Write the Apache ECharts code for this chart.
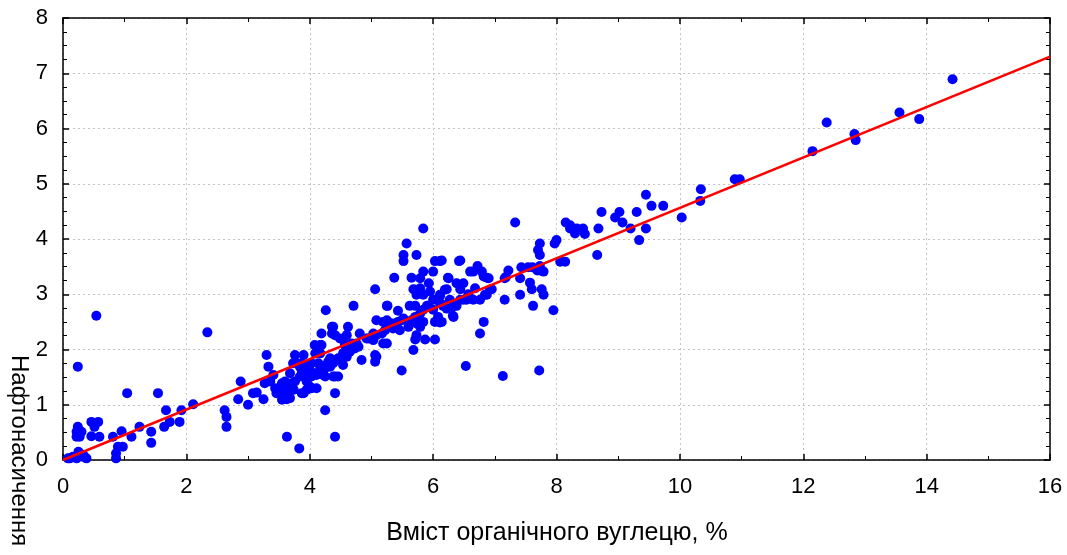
<!DOCTYPE html>
<html>
<head>
<meta charset="utf-8">
<script src="https://cdn.jsdelivr.net/npm/echarts@6/dist/echarts.min.js"></script>
<style>html,body{margin:0;padding:0;background:#fff}#chart{width:1067px;height:555px}</style>
</head>
<body>
<div id="chart"></div>
<script>
const xTitle = 'Вміст органічного вуглецю, %';
const yTitle = 'Нафтонасичення';
const carbon = [
0.08,0.11,0.16,0.22,0.25,0.27,0.32,0.33,0.38,0.24,0.54,0.24,0.22,0.22,0.27,0.30,0.46,0.57,0.51,0.46,0.59,0.81,0.95,0.89,0.97,0.86,0.86,
1.04,1.11,1.24,1.43,1.43,1.54,1.64,1.67,1.73,1.89,1.92,2.11,2.34,2.62,2.65,2.65,2.84,2.88,3.00,3.08,3.14,3.25,
3.30,3.33,3.27,3.36,3.41,3.44,3.46,3.55,3.55,3.63,3.63,3.65,3.68,3.71,3.76,3.60,3.74,3.57,3.63,3.83,3.76,3.90,3.79,3.87,3.73,3.87,3.84,3.68,
3.95,4.00,3.84,3.98,4.03,4.06,4.11,4.11,4.03,3.95,3.87,3.90,4.00,3.95,4.03,4.14,4.17,4.22,4.27,4.33,4.38,4.41,4.46,4.38,4.25,4.41,4.25,4.41,
4.08,4.17,4.09,4.19,4.19,4.36,4.41,4.49,4.60,4.57,4.54,4.46,4.17,4.33,4.26,4.38,4.36,4.30,4.25,4.44,4.54,4.60,4.65,4.57,4.68,4.73,4.79,4.62,4.81,4.71,4.76,4.84,
4.95,4.92,5.03,5.08,5.08,5.06,5.06,5.03,5.17,5.22,5.19,5.25,5.35,5.46,5.33,5.19,5.25,5.08,5.25,5.35,5.06,5.26,5.25,5.43,5.49,5.41,5.43,5.30,5.52,
5.62,5.71,5.90,5.79,5.84,5.65,5.60,5.73,5.73,5.71,5.87,6.03,6.03,6.08,6.22,6.11,5.95,5.79,5.71,5.68,5.49,5.37,5.65,5.84,5.57,5.52,5.52,5.73,
6.03,6.11,6.42,5.84,6.00,5.79,5.93,6.24,5.68,5.84,5.73,6.00,6.11,6.22,6.38,6.49,6.44,6.57,6.27,6.38,6.49,6.16,6.00,6.11,6.32,5.92,5.84,5.71,5.68,5.79,
6.14,6.44,6.25,6.19,6.33,6.22,6.11,6.33,6.14,6.60,6.65,6.72,6.79,6.82,6.90,6.87,6.68,6.92,6.87,6.76,6.65,6.54,6.44,6.84,6.95,6.82,6.76,6.53,
7.13,7.72,7.16,7.18,7.22,7.16,7.41,7.41,7.33,7.43,7.54,7.61,7.73,7.79,7.69,7.74,7.57,7.60,7.76,7.79,7.62,7.95,7.73,7.70,7.73,7.97,8.00,8.06,8.14,
8.15,8.22,8.33,8.43,8.30,8.46,8.22,8.66,8.68,8.73,8.95,9.02,9.07,9.20,9.30,9.45,9.34,9.45,9.54,9.73,10.03,10.33,10.34,10.89,10.97,
12.15,12.38,12.83,12.85,13.56,13.88,14.42
];
const saturation = [
0.03,0.03,0.06,0.03,0.15,0.12,0.06,0.09,0.03,1.69,2.61,0.60,0.51,0.42,0.42,0.51,0.69,0.69,0.60,0.43,0.42,0.42,0.52,0.24,0.24,0.12,0.03,
1.21,0.42,0.60,0.51,0.31,1.21,0.60,0.90,0.69,0.69,0.90,1.01,2.31,0.90,0.78,0.60,1.10,1.42,1.00,1.21,1.22,1.10,
1.90,1.69,1.39,1.42,1.54,1.30,1.21,1.39,1.09,1.36,1.10,1.24,1.12,1.39,1.42,1.42,1.27,1.24,0.42,0.21,1.90,1.90,1.75,1.75,1.75,1.63,1.51,1.57,
1.72,1.63,1.69,1.51,1.51,1.57,1.54,1.30,1.30,1.27,1.21,1.21,1.33,1.42,1.75,1.75,1.66,1.54,1.72,1.69,1.75,1.51,1.51,1.51,1.51,1.21,0.90,0.42,
2.08,2.08,1.93,2.29,2.08,2.41,2.26,2.20,2.26,2.11,1.93,1.84,1.93,1.84,2.71,2.41,2.29,1.78,1.66,1.81,1.72,1.87,1.96,2.08,2.11,2.02,2.05,2.41,2.29,2.79,2.11,1.81,
2.20,2.20,2.17,2.26,1.87,1.78,1.90,2.29,2.29,2.35,2.11,2.11,2.38,2.35,2.47,2.50,2.50,2.53,2.53,2.41,3.09,2.79,2.79,2.70,2.53,2.47,2.50,2.47,2.56,
2.79,2.79,2.79,2.65,2.50,2.53,2.41,2.47,2.26,2.18,2.18,2.18,2.50,2.59,2.74,2.96,3.05,3.11,3.08,1.99,1.62,3.30,3.30,4.19,3.92,3.71,3.60,3.71,
3.60,3.60,3.60,3.41,3.41,3.29,3.20,3.30,3.09,2.99,2.99,2.90,2.99,3.09,3.20,3.20,3.09,3.00,2.90,2.79,2.90,2.79,2.72,2.49,2.61,2.79,2.72,2.59,2.50,2.41,
3.61,3.61,3.29,3.08,2.78,2.81,2.84,2.59,2.50,3.41,3.41,3.51,3.41,3.32,3.29,3.30,3.11,3.08,2.99,2.90,2.90,2.90,2.90,2.99,3.09,2.50,2.29,1.70,
1.52,1.62,2.90,3.31,3.43,3.29,3.29,2.99,4.30,3.49,3.49,3.49,3.51,3.41,3.43,3.43,3.21,3.09,3.09,2.99,2.79,2.71,3.92,3.80,3.71,3.92,3.98,3.59,3.59,
4.30,4.19,4.19,4.19,4.10,4.09,4.25,3.71,4.19,4.49,4.39,4.49,4.30,4.19,4.49,4.19,3.98,4.80,4.60,4.60,4.39,4.69,4.90,5.08,5.08,
5.59,6.11,5.90,5.79,6.29,6.17,6.89
];
const fitX = [0, 16];
const fitY = [0, 7.3];
const xTicks = {min: 0, max: 16, step: 2};
const yTicks = {min: 0, max: 8, step: 1};

const points = carbon.map((x, i) => [x, saturation[i]]);
const fitLine = fitX.map((x, i) => [x, fitY[i]]);

const chart = echarts.init(document.getElementById('chart'), null, {renderer: 'canvas'});
const font = '"Liberation Sans", Arial, sans-serif';
const lineStyle = {color: '#000', width: 1.5};
chart.setOption({
  animation: false,
  backgroundColor: '#fff',
  grid: {left: 63, right: 17, top: 18, bottom: 95, containLabel: false},
  xAxis: [{
    type: 'value', min: xTicks.min, max: xTicks.max, interval: xTicks.step,
    axisLine: {show: true, onZero: false, lineStyle},
    axisTick: {show: true, inside: true, length: 6, lineStyle},
    minorTick: {show: true, splitNumber: 2, length: 4, lineStyle: {color: '#000', width: 1}},
    axisLabel: {color: '#000', fontSize: 22, fontFamily: font, margin: 16},
    splitLine: {show: true, lineStyle: {color: '#c4c4c4', type: [2, 3], width: 1}}
  }, {
    type: 'value', position: 'top', min: xTicks.min, max: xTicks.max, interval: xTicks.step,
    axisLine: {show: true, onZero: false, lineStyle},
    axisTick: {show: true, inside: true, length: 6, lineStyle},
    minorTick: {show: true, splitNumber: 2, length: 4, lineStyle: {color: '#000', width: 1}},
    axisLabel: {show: false}, splitLine: {show: false}
  }],
  yAxis: [{
    type: 'value', min: yTicks.min, max: yTicks.max, interval: yTicks.step,
    axisLine: {show: true, onZero: false, lineStyle},
    axisTick: {show: true, inside: true, length: 6, lineStyle},
    minorTick: {show: true, splitNumber: 4, length: 4, lineStyle: {color: '#000', width: 1}},
    axisLabel: {color: '#000', fontSize: 22, fontFamily: font, margin: 15},
    splitLine: {show: true, lineStyle: {color: '#c4c4c4', type: [2, 3], width: 1}}
  }, {
    type: 'value', position: 'right', min: yTicks.min, max: yTicks.max, interval: yTicks.step,
    axisLine: {show: true, onZero: false, lineStyle},
    axisTick: {show: true, inside: true, length: 6, lineStyle},
    minorTick: {show: true, splitNumber: 4, length: 4, lineStyle: {color: '#000', width: 1}},
    axisLabel: {show: false}, splitLine: {show: false}
  }],
  series: [{
    type: 'scatter', data: points, symbol: 'circle', symbolSize: 10,
    itemStyle: {color: '#0000ff', opacity: 1}, z: 3
  }, {
    type: 'line', data: fitLine, showSymbol: false, symbol: 'none',
    lineStyle: {color: '#ff0000', width: 2.5}, z: 4, silent: true
  }],
  graphic: [{
    type: 'text', x: 557, y: 533,
    style: {text: xTitle, fontSize: 25, fontFamily: font, fill: '#000', textAlign: 'center', textVerticalAlign: 'middle'}
  }, {
    type: 'text', x: 19, y: 355, rotation: -Math.PI / 2,
    style: {text: yTitle, fontSize: 24, fontFamily: font, fill: '#000', textAlign: 'left', textVerticalAlign: 'middle'}
  }]
});
</script>
</body>
</html>
